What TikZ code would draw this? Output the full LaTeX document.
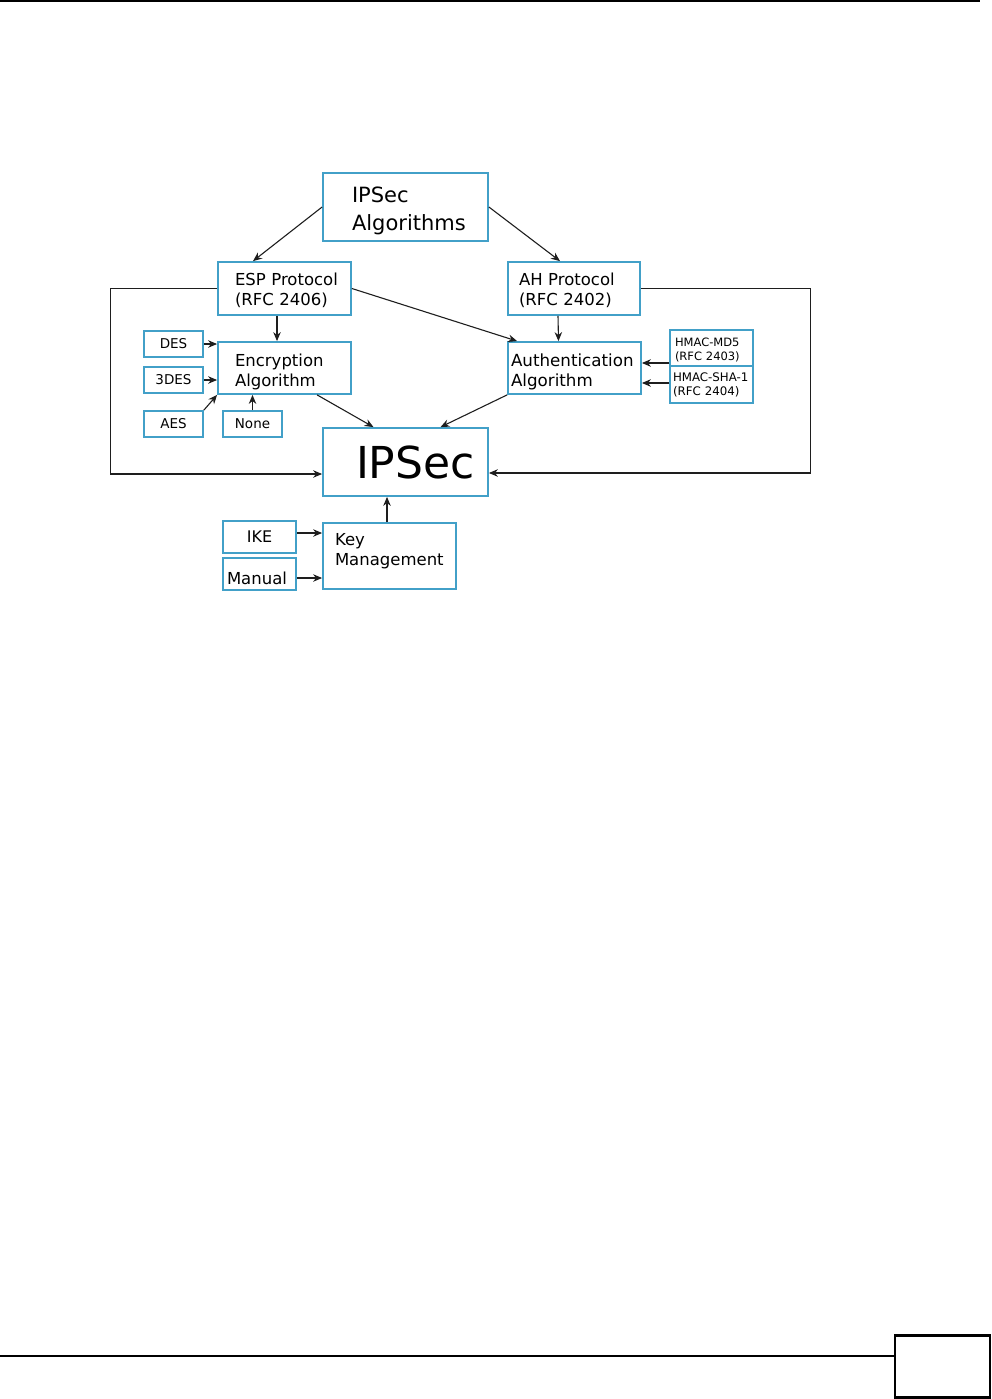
\documentclass[tikz,border=0pt]{standalone}
\usepackage{fontspec}
\setmainfont{DejaVu Sans}
\usetikzlibrary{arrows.meta}
\definecolor{boxblue}{RGB}{66,160,200}
\definecolor{linegray}{RGB}{30,30,30}
\tikzset{
  box/.style={draw=boxblue, line width=1.8pt, rectangle, inner ysep=0pt, align=left},
  cbox/.style={draw=boxblue, line width=1.8pt, rectangle, inner sep=0pt, align=center},
  arr/.style={draw=linegray, line width=1.1pt, -{Stealth[length=9pt,width=7.5pt]}},
  pageline/.style={draw=black}
}
\newcommand{\fs}[2]{\fontsize{#1}{#2}\selectfont\hyphenpenalty=10000\exhyphenpenalty=10000}
\newcommand{\up}[1]{\rule{0pt}{#1}}
\begin{document}
\begin{tikzpicture}[x=1pt,y=-1pt]
\useasboundingbox (0,0) rectangle (992,1399);
% page decorations
\draw[pageline, line width=1.6pt] (0,1) -- (980,1);
\draw[pageline, line width=1.2pt] (0,1356) -- (895,1356);
\draw[pageline, line width=2.6pt] (895,1335.5) rectangle (990,1397.5);

% boxes
\node[box, minimum width=165pt, minimum height=68pt, inner xsep=29pt, text width=107pt, font=\fs{21}{28}] (alg) at (405.5,207) {\up{23pt}IPSec\\Algorithms};
\node[box, minimum width=133pt, minimum height=53pt, inner xsep=17pt, text width=99pt, font=\fs{16.5}{20}] (esp) at (284.5,288.5) {\up{16.5pt}\mbox{ESP Protocol}\\(RFC 2406)};
\node[box, minimum width=132pt, minimum height=53pt, inner xsep=11pt, text width=110pt, font=\fs{16.5}{20}] (ah) at (574,288.5) {\up{16.5pt}\mbox{AH Protocol}\\(RFC 2402)};
\node[box, minimum width=133pt, minimum height=52pt, inner xsep=17pt, text width=99pt, font=\fs{16.5}{20}] (enc) at (284.5,368) {\up{20pt}Encryption\\Algorithm};
\node[box, minimum width=133pt, minimum height=52pt, inner xsep=3pt, text width=127pt, font=\fs{16.7}{20}] (auth) at (574.5,368) {\up{21pt}Authentication\\Algorithm};
\node[cbox, minimum width=59pt, minimum height=26pt, font=\fs{13.5}{16}] (des) at (173.5,344) {DES};
\node[cbox, minimum width=59pt, minimum height=26pt, font=\fs{13.5}{16}] (tdes) at (173.5,380) {3DES};
\node[cbox, minimum width=59pt, minimum height=26pt, font=\fs{13.5}{16}] (aes) at (173.5,424) {AES};
\node[cbox, minimum width=59pt, minimum height=26pt, font=\fs{13.5}{16}] (none) at (252.5,424) {None};
\node[box, minimum width=165pt, minimum height=68pt, inner xsep=33pt, text width=99pt, font=\fs{44}{48}] (ipsec) at (405.5,462) {IPSec};
\node[box, minimum width=83pt, minimum height=36pt, inner xsep=5pt, text width=73pt, line width=1.2pt, font=\fs{11.5}{14}] (md5) at (711.5,348) {\up{12.7pt}HMAC-MD5\\(RFC 2403)};
\node[box, minimum width=83pt, minimum height=37pt, inner xsep=3pt, text width=77pt, line width=1.2pt, font=\fs{11.8}{14}] (sha) at (711.5,384.5) {HMAC-SHA-1\\(RFC 2404)};
\node[box, minimum width=133pt, minimum height=66pt, inner xsep=12pt, text width=109pt, font=\fs{16.5}{20}] (key) at (389.5,556) {Key\\Management\rule[-14pt]{0pt}{14pt}};
\node[cbox, minimum width=73pt, minimum height=32pt, font=\fs{16}{20}] (ike) at (259.5,537) {IKE};
\node[box, minimum width=73pt, minimum height=32pt, inner xsep=4pt, text width=65pt, font=\fs{16.5}{20}] (manual) at (259.5,574) {\up{22pt}Manual};

% connectors
\draw[arr] (alg.west) -- ([xshift=-31.5pt]esp.north);
\draw[arr] (alg.east) -- ([xshift=-14pt]ah.north);
\draw[arr] (esp.east) -- ([xshift=10pt]auth.north west);
\draw[arr] ([xshift=-7.5pt]esp.south) -- ([xshift=-7.5pt]enc.north);
\draw[arr] ([xshift=-16pt]ah.south) -- ([xshift=-16pt]auth.north);
\draw[arr] (des.east) -- (des.east -| enc.west);
\draw[arr] (tdes.east) -- (tdes.east -| enc.west);
\draw[arr] (aes.north east) -- (enc.south west);
\draw[arr] (none.north) -- (none.north |- enc.south);
\draw[arr] ([xshift=100pt]enc.south west) -- ([xshift=-32pt]ipsec.north);
\draw[arr] (auth.south west) -- ([xshift=35pt]ipsec.north);
\draw[arr] (esp.west) -- ++(-107pt,0) |- ([yshift=-12pt]ipsec.west);
\draw[arr] (ah.east) -- ++(170pt,0) |- ([yshift=-11pt]ipsec.east);
\draw[arr] ([yshift=-15pt]md5.west) -- ([yshift=-15pt]md5.west -| auth.east);
\draw[arr] ([yshift=1.5pt]sha.west) -- ([yshift=1.5pt]sha.west -| auth.east);
\draw[arr] ([xshift=-2.5pt]key.north) -- ([xshift=-2.5pt]key.north |- ipsec.south);
\draw[arr] ([yshift=4pt]ike.east) -- ([yshift=4pt]ike.east -| key.west);
\draw[arr] ([yshift=-4pt]manual.east) -- ([yshift=-4pt]manual.east -| key.west);
\end{tikzpicture}
\end{document}
